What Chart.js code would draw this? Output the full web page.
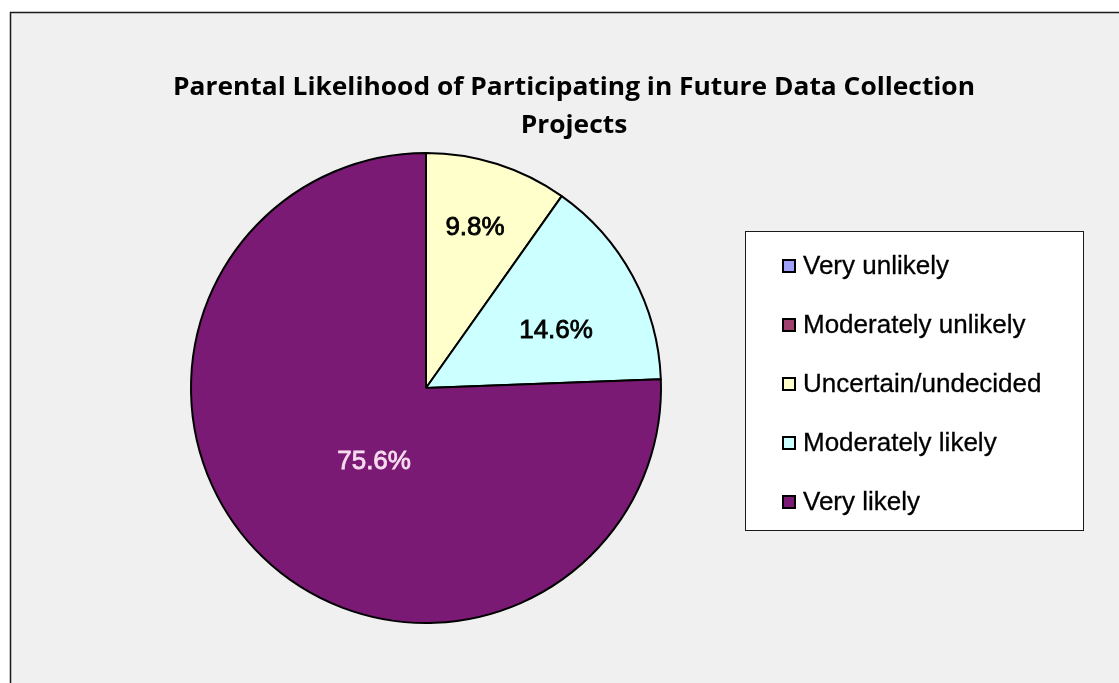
<!DOCTYPE html>
<html>
<head>
<meta charset="utf-8">
<script src="https://cdn.jsdelivr.net/npm/chart.js@4"></script>
<style>
  html, body { margin: 0; padding: 0; background: #ffffff; }
  canvas { display: block; }
</style>
</head>
<body>
<canvas id="likelihoodChart" width="1119" height="683"></canvas>
<script>
// Chart data
const categories = ['Very unlikely', 'Moderately unlikely', 'Uncertain/undecided', 'Moderately likely', 'Very likely'];
const percentages = [0, 0, 9.8, 14.6, 75.6];
const sliceColors = ['#a0a0ff', '#a0406e', '#ffffcc', '#ccffff', '#7b1a74'];
const labelColors = ['#000000', '#000000', '#000000', '#000000', '#f6dcef'];
const titleLines = ['Parental Likelihood of Participating in Future Data Collection', 'Projects'];

// label placement inside slices (fraction of radius, angle shift in degrees)
const labelRadius = [0.6, 0.6, 0.712, 0.604, 0.385];
const labelShift = [0, 0, -0.6, 4.8, -8.9];

function drawText(ctx, text, x, y, sx, stroke) {
    ctx.save();
    ctx.translate(x, y);
    ctx.scale(sx, 1);
    ctx.fillText(text, 0, 0);
    if (stroke) {
        ctx.lineWidth = stroke;
        ctx.strokeStyle = ctx.fillStyle;
        ctx.strokeText(text, 0, 0);
    }
    ctx.restore();
}

// gray plot frame behind everything
const framePlugin = {
    id: 'frame',
    beforeDraw(chart) {
        const ctx = chart.ctx;
        ctx.save();
        ctx.fillStyle = '#ffffff';
        ctx.fillRect(0, 0, chart.width, chart.height);
        ctx.fillStyle = '#f0f0f0';
        ctx.fillRect(10, 12, chart.width, chart.height);
        ctx.strokeStyle = '#1a1a1a';
        ctx.lineWidth = 1.5;
        ctx.strokeRect(10.5, 12.5, chart.width + 20, chart.height + 20);

        // title, Calibri-like bold
        ctx.fillStyle = '#000000';
        ctx.font = 'bold 25px "Open Sans", "Noto Sans", sans-serif';
        ctx.textAlign = 'center';
        ctx.textBaseline = 'middle';
        const w = ctx.measureText(titleLines[0]).width;
        const sx = 802 / w;
        drawText(ctx, titleLines[0], 574, 88, sx);
        drawText(ctx, titleLines[1], 574, 126, sx);
        ctx.restore();
    }
};

// percentage labels inside the slices
const sliceLabelPlugin = {
    id: 'sliceLabels',
    afterDatasetsDraw(chart) {
        const ctx = chart.ctx;
        const meta = chart.getDatasetMeta(0);
        ctx.save();
        ctx.font = '26px "Liberation Sans", Arial, sans-serif';
        ctx.textAlign = 'center';
        ctx.textBaseline = 'middle';
        meta.data.forEach((arc, i) => {
            const v = percentages[i];
            if (!v) return;
            const p = arc.getProps(['x', 'y', 'startAngle', 'endAngle', 'outerRadius'], true);
            const mid = (p.startAngle + p.endAngle) / 2 + labelShift[i] * Math.PI / 180;
            const r = p.outerRadius * labelRadius[i];
            ctx.fillStyle = labelColors[i];
            drawText(ctx, v.toFixed(1) + '%', p.x + r * Math.cos(mid), p.y + r * Math.sin(mid), 1, 0.8);
        });
        ctx.restore();
    }
};

// boxed legend on the right
const boxLegendPlugin = {
    id: 'boxLegend',
    afterDraw(chart) {
        const ctx = chart.ctx;
        const box = { x: 745, y: 231, w: 338, h: 299 };
        ctx.save();
        ctx.fillStyle = '#ffffff';
        ctx.fillRect(box.x, box.y, box.w, box.h);
        ctx.strokeStyle = '#1a1a1a';
        ctx.lineWidth = 1;
        ctx.strokeRect(box.x + 0.5, box.y + 0.5, box.w, box.h);

        ctx.font = '26px "Liberation Sans", Arial, sans-serif';
        ctx.textAlign = 'left';
        ctx.textBaseline = 'middle';
        categories.forEach((name, i) => {
            const cy = 266 + i * 59;
            ctx.fillStyle = sliceColors[i];
            ctx.fillRect(782, cy - 7, 14, 14);
            ctx.strokeStyle = '#000000';
            ctx.lineWidth = 2;
            ctx.strokeRect(783, cy - 6, 12, 12);
            ctx.fillStyle = '#000000';
            drawText(ctx, name, 803, cy + 1, 1, 0.3);
        });
        ctx.restore();
    }
};

const ctx = document.getElementById('likelihoodChart').getContext('2d');
const likelihoodChart = new Chart(ctx, {
    type: 'pie',
    data: {
        labels: categories,
        datasets: [{
            data: percentages,
            backgroundColor: sliceColors,
            borderColor: '#000000',
            borderWidth: 2,
            hoverOffset: 0
        }]
    },
    options: {
        responsive: false,
        animation: false,
        radius: 235,
        layout: {
            padding: { left: 191, right: 458, top: 153, bottom: 60 }
        },
        plugins: {
            legend: { display: false },
            title: { display: false },
            tooltip: { enabled: false }
        }
    },
    plugins: [framePlugin, sliceLabelPlugin, boxLegendPlugin]
});
</script>
</body>
</html>
